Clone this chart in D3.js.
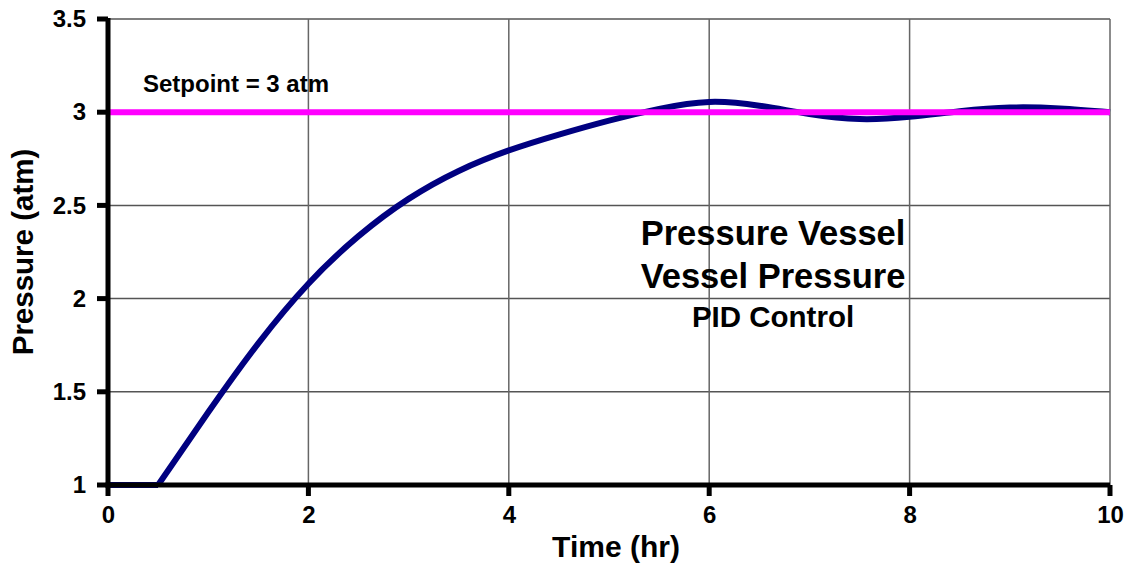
<!DOCTYPE html>
<html>
<head>
<meta charset="utf-8">
<script src="https://cdn.jsdelivr.net/npm/d3@7"></script>
<style>
  html, body { margin: 0; padding: 0; background: #fff; }
  svg { display: block; font-family: "Liberation Sans", Arial, sans-serif; font-weight: bold; }
</style>
</head>
<body>
<svg id="chart" width="1131" height="567"></svg>
<script>
// Vessel pressure response under PID control
const timeHr = [0, 0.5, 1, 1.5, 2, 2.5, 3, 3.5, 4, 4.5, 5, 5.5, 6, 6.5, 7, 7.5, 8, 8.5, 9, 9.5, 10];
const pressureAtm = [1, 1, 1.39, 1.76, 2.08, 2.335, 2.535, 2.685, 2.795, 2.88, 2.955, 3.018, 3.055, 3.035, 2.99, 2.963, 2.975, 3.005, 3.025, 3.02, 3.0];
const setpointTime = [0, 10];
const setpointAtm = [3, 3];
const xTicks = [0, 2, 4, 6, 8, 10];
const yTicks = [1, 1.5, 2, 2.5, 3, 3.5];
const noteLines = ["Pressure Vessel", "Vessel Pressure", "PID Control"];

const svg = d3.select("#chart");
const x = d3.scaleLinear().domain([0, 10]).range([108, 1110]);
const y = d3.scaleLinear().domain([1, 3.5]).range([485, 19]);

// grid
const grid = svg.append("g");
grid.selectAll("line.h").data(yTicks.slice(1)).join("line").attr("class", "h")
  .attr("x1", x(0)).attr("x2", x(10))
  .attr("y1", d => y(d)).attr("y2", d => y(d))
  .attr("stroke", "#555").attr("stroke-width", 1.5);
grid.selectAll("line.v").data(xTicks.slice(1)).join("line").attr("class", "v")
  .attr("y1", y(1)).attr("y2", y(3.5))
  .attr("x1", d => x(d)).attr("x2", d => x(d))
  .attr("stroke", "#666").attr("stroke-width", 1.5);

// series: flat lead-in drawn straight, response drawn as a smooth spline
const pts = d3.zip(timeHr, pressureAtm);
const startIdx = 1;
const lead = d3.line().x(d => x(d[0])).y(d => y(d[1]))(pts.slice(0, startIdx + 1));
const resp = d3.line().x(d => x(d[0])).y(d => y(d[1])).curve(d3.curveNatural)(pts.slice(startIdx));
svg.append("path")
  .attr("d", lead + resp)
  .attr("fill", "none").attr("stroke", "#000080").attr("stroke-width", 6)
  .attr("stroke-linejoin", "round").attr("stroke-linecap", "butt");
svg.append("path")
  .attr("d", d3.line().x(d => x(d[0])).y(d => y(d[1]))(d3.zip(setpointTime, setpointAtm)))
  .attr("fill", "none").attr("stroke", "#ff00ff").attr("stroke-width", 6);

// axes: labels from d3 axes, heavy axis lines and tick marks drawn on top
function styleAxis(g) {
  g.attr("font-size", null).attr("font-family", null);
  g.select("path.domain").remove();
  g.selectAll(".tick line").remove();
  g.selectAll(".tick text").style("fill", "#000").style("font-size", "24px")
    .style("font-weight", "bold").style("font-family", "'Liberation Sans', Arial, sans-serif");
}
const gx = svg.append("g").attr("transform", `translate(0,${y(1)})`)
  .call(d3.axisBottom(x).tickValues(xTicks).tickFormat(d3.format("d")).tickSizeOuter(0).tickSizeInner(10).tickPadding(10));
gx.selectAll(".tick text").attr("dy", "0.75em");
styleAxis(gx);
const gy = svg.append("g").attr("transform", `translate(${x(0)},0)`)
  .call(d3.axisLeft(y).tickValues(yTicks).tickFormat(d => String(d)).tickSizeOuter(0).tickSizeInner(10).tickPadding(12));
styleAxis(gy);

const axisLines = svg.append("g").attr("stroke", "#000");
axisLines.append("line")
  .attr("x1", x(0)).attr("x2", x(0)).attr("y1", y(3.5) - 1).attr("y2", y(1) + 2.5)
  .attr("stroke-width", 5);
axisLines.append("line")
  .attr("x1", x(0) - 2.5).attr("x2", x(10)).attr("y1", y(1)).attr("y2", y(1))
  .attr("stroke-width", 5);
axisLines.selectAll("line.yt").data(yTicks).join("line").attr("class", "yt")
  .attr("x1", x(0) - 11).attr("x2", x(0)).attr("y1", d => y(d)).attr("y2", d => y(d))
  .attr("stroke-width", 5);
axisLines.selectAll("line.xt").data(xTicks).join("line").attr("class", "xt")
  .attr("x1", d => x(d)).attr("x2", d => x(d)).attr("y1", y(1)).attr("y2", y(1) + 11)
  .attr("stroke-width", 5);

// axis titles
svg.append("text").attr("x", 616).attr("y", 557).attr("text-anchor", "middle")
  .style("font-size", "30px").text("Time (hr)");
svg.append("text").attr("transform", "translate(33,252) rotate(-90)").attr("text-anchor", "middle")
  .style("font-size", "29.5px").text("Pressure (atm)");

// labels
svg.append("text").attr("x", 143).attr("y", 92).style("font-size", "24px").text("Setpoint = 3 atm");
const noteSizes = [34.5, 34.5, 29.5];
const noteBase = [245, 288, 327];
noteLines.forEach((t, i) => {
  svg.append("text").attr("x", 773).attr("y", noteBase[i]).attr("text-anchor", "middle")
    .style("font-size", noteSizes[i] + "px").text(t);
});
</script>
</body>
</html>
